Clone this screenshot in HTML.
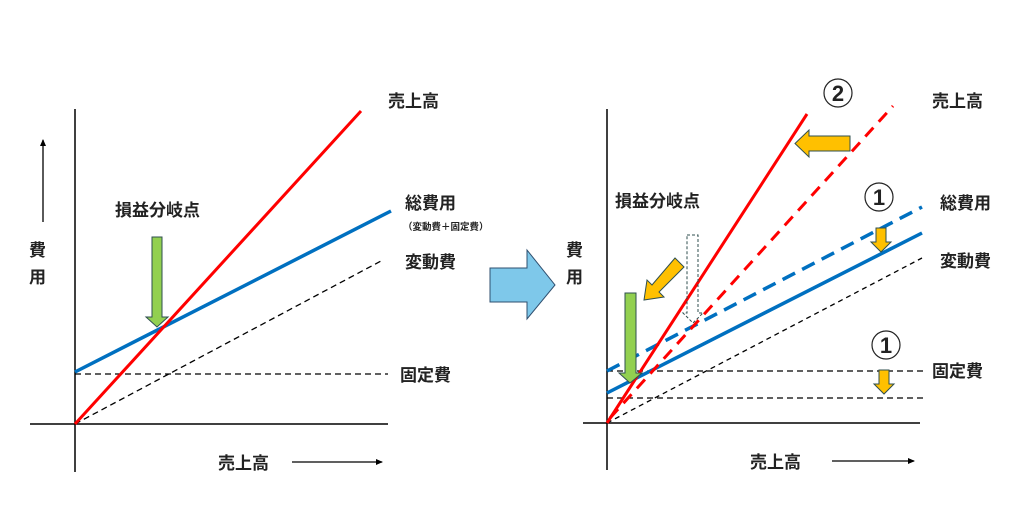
<!DOCTYPE html>
<html><head><meta charset="utf-8"><style>
html,body{margin:0;padding:0;background:#fff;}
svg{display:block;}
text{font-family:"Liberation Sans","Noto Sans CJK JP",sans-serif;font-weight:bold;fill:#222;}
</style></head><body>
<svg width="1024" height="510" viewBox="0 0 1024 510" xmlns="http://www.w3.org/2000/svg">
<defs>
<marker id="ah" markerWidth="8" markerHeight="8" refX="6" refY="4" orient="auto" markerUnits="userSpaceOnUse"><path d="M0,1 L7,4 L0,7 Z" fill="#000"/></marker>
</defs>
<!-- LEFT CHART -->
<line x1="75" y1="109" x2="75" y2="472" stroke="#000" stroke-width="1.5"/>
<line x1="30" y1="424" x2="388" y2="424" stroke="#000" stroke-width="1.5"/>
<line x1="43" y1="222" x2="43" y2="140" stroke="#000" stroke-width="1.3" marker-end="url(#ah)"/>
<line x1="292" y1="462" x2="382" y2="462" stroke="#000" stroke-width="1.3" marker-end="url(#ah)"/>
<line x1="75" y1="374" x2="388" y2="374" stroke="#000" stroke-width="1.3" stroke-dasharray="6,4"/>
<line x1="75" y1="424" x2="381" y2="261" stroke="#000" stroke-width="1.3" stroke-dasharray="6,4"/>
<line x1="75" y1="372" x2="391" y2="211" stroke="#0070c0" stroke-width="3.5"/>
<line x1="75" y1="424" x2="361" y2="111" stroke="#ff0000" stroke-width="3"/>
<path d="M152,237 H162 V317 H168 L157,327 L146,317 H152 Z" fill="#92d050" stroke="#2f4f4f" stroke-width="1"/>
<text x="115" y="216" font-size="17">損益分岐点</text>
<text x="388" y="107" font-size="17">売上高</text>
<text x="405" y="209" font-size="17">総費用</text>
<text x="403" y="230" font-size="9.5">（変動費＋固定費）</text>
<text x="405" y="268" font-size="17">変動費</text>
<text x="400" y="381" font-size="17">固定費</text>
<text x="29" y="256" font-size="17">費</text>
<text x="29" y="283" font-size="17">用</text>
<text x="218" y="469" font-size="17">売上高</text>
<!-- BIG ARROW -->
<path d="M490,268 H527 V250 L555,285 L527,319 V302 H490 Z" fill="#7ec8ea" stroke="#2f4f6f" stroke-width="1"/>
<!-- RIGHT CHART -->
<line x1="607" y1="109" x2="607" y2="470" stroke="#000" stroke-width="1.5"/>
<line x1="583" y1="423" x2="920" y2="423" stroke="#000" stroke-width="1.5"/>
<line x1="832" y1="461" x2="914" y2="461" stroke="#000" stroke-width="1.3" marker-end="url(#ah)"/>
<line x1="607" y1="371" x2="925" y2="371" stroke="#000" stroke-width="1.3" stroke-dasharray="6,4"/>
<line x1="607" y1="398" x2="925" y2="398" stroke="#000" stroke-width="1.3" stroke-dasharray="6,4"/>
<line x1="607" y1="423" x2="922" y2="258" stroke="#000" stroke-width="1.3" stroke-dasharray="5,4"/>
<line x1="607" y1="371" x2="922" y2="207" stroke="#0070c0" stroke-width="3.5" stroke-dasharray="14,8"/>
<line x1="607" y1="393" x2="922" y2="233" stroke="#0070c0" stroke-width="3.5"/>
<line x1="610" y1="418" x2="893" y2="106" stroke="#ff0000" stroke-width="3" stroke-dasharray="12,8"/>
<line x1="607" y1="423" x2="807" y2="114" stroke="#ff0000" stroke-width="3"/>
<path d="M687,235 H698 V313 H703 L693,323 L683,313 H687 Z" fill="none" stroke="#2f4f4f" stroke-width="1" stroke-dasharray="3,2"/>
<path d="M625,293 H636 V373 H642 L630,383 L619,373 H625 Z" fill="#92d050" stroke="#2f4f4f" stroke-width="1"/>
<path d="M675,258 L684,267 L659,292 L664,297 L644,300 L647,280 L652,285 Z" fill="#ffc000" stroke="#2f4f4f" stroke-width="1"/>
<path d="M850,136 V151 H809 V157 L795,143.5 L809,130 V136 Z" fill="#ffc000" stroke="#2f4f4f" stroke-width="1"/>
<path d="M876,228 H886 V242 H891 L881,252 L871,242 H876 Z" fill="#ffc000" stroke="#2f4f4f" stroke-width="1"/>
<path d="M879,370 H889 V384 H894 L884,394 L874,384 H879 Z" fill="#ffc000" stroke="#2f4f4f" stroke-width="1"/>
<circle cx="838" cy="93" r="14" fill="none" stroke="#222" stroke-width="1.2"/>
<text x="838" y="101" font-size="22" text-anchor="middle">2</text>
<circle cx="879" cy="197" r="14" fill="none" stroke="#222" stroke-width="1.2"/>
<text x="879" y="205" font-size="22" text-anchor="middle">1</text>
<circle cx="886" cy="345" r="14" fill="none" stroke="#222" stroke-width="1.2"/>
<text x="886" y="353" font-size="22" text-anchor="middle">1</text>
<text x="932" y="107" font-size="17">売上高</text>
<text x="940" y="209" font-size="17">総費用</text>
<text x="940" y="267" font-size="17">変動費</text>
<text x="932" y="377" font-size="17">固定費</text>
<text x="615" y="207" font-size="17">損益分岐点</text>
<text x="566" y="256" font-size="17">費</text>
<text x="566" y="283" font-size="17">用</text>
<text x="750" y="468" font-size="17">売上高</text>
</svg>
</body></html>
